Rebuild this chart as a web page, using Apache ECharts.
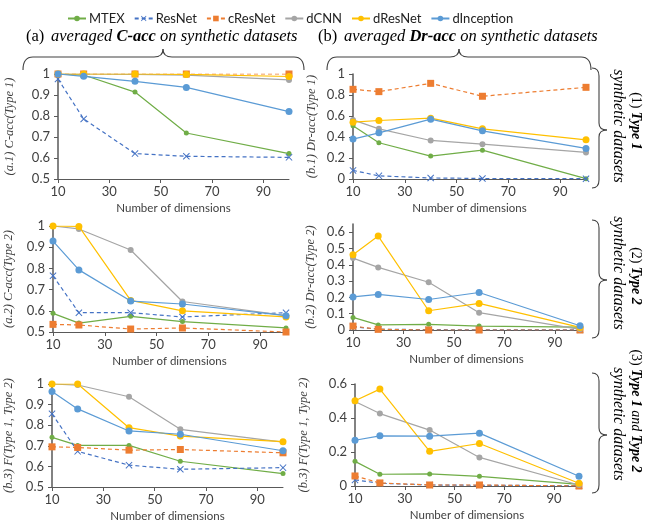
<!DOCTYPE html>
<html>
<head>
<meta charset="utf-8">
<script src="https://cdn.jsdelivr.net/npm/echarts@6/dist/echarts.min.js"></script>
<style>
  html, body { margin: 0; padding: 0; background: #fff; }
  #chart { width: 645px; height: 525px; }
</style>
</head>
<body>
<div id="chart"></div>
<script>
// x values (number of dimensions) and tick labels
const dims = [10, 20, 40, 60, 100];
const xTicks = [10, 30, 50, 70, 90];
const methods = ['MTEX', 'ResNet', 'cResNet', 'dCNN', 'dResNet', 'dInception'];

// y tick labels
const yTicksAcc = [0.5, 0.6, 0.7, 0.8, 0.9, 1];
const yTicksDr1 = [0, 0.2, 0.4, 0.6, 0.8, 1];
const yTicksDr2 = [0, 0.1, 0.2, 0.3, 0.4, 0.5, 0.6];
const yTicksDr3 = [0, 0.2, 0.4, 0.6];

// values, one row per method (same order as methods)
// (a.1) C-acc Type 1
const cAccType1 = [
  [1.0, 0.995, 0.914, 0.719, 0.621],
  [0.976, 0.786, 0.621, 0.608, 0.603],
  [1.0, 1.0, 1.0, 1.0, 1.0],
  [1.0, 1.0, 0.998, 0.995, 0.972],
  [1.0, 1.0, 1.0, 0.998, 0.988],
  [1.0, 0.989, 0.965, 0.936, 0.821]
];
// (b.1) Dr-acc Type 1
const drAccType1 = [
  [0.506, 0.345, 0.218, 0.275, 0.003],
  [0.082, 0.03, 0.01, 0.005, 0.003],
  [0.854, 0.832, 0.911, 0.788, 0.873],
  [0.563, 0.478, 0.367, 0.332, 0.253],
  [0.541, 0.557, 0.579, 0.478, 0.373],
  [0.38, 0.44, 0.57, 0.459, 0.291]
];
// (a.2) C-acc Type 2
const cAccType2 = [
  [0.588, 0.542, 0.574, 0.549, 0.519],
  [0.765, 0.591, 0.591, 0.571, 0.591],
  [0.536, 0.533, 0.514, 0.519, 0.5],
  [1.0, 0.986, 0.887, 0.644, 0.577],
  [1.0, 0.998, 0.649, 0.6, 0.571],
  [0.929, 0.793, 0.646, 0.632, 0.577]
];
// (b.2) Dr-acc Type 2
const drAccType2 = [
  [0.077, 0.031, 0.035, 0.024, 0.018],
  [0.02, 0.005, 0.002, 0.001, 0.001],
  [0.024, 0.004, 0.0, 0.0, 0.0],
  [0.441, 0.384, 0.293, 0.106, 0.004],
  [0.462, 0.576, 0.118, 0.163, 0.016],
  [0.203, 0.218, 0.187, 0.23, 0.026]
];
// (a.3) F(Type 1, Type 2) of C-acc
const cAccBoth = [
  [0.741, 0.702, 0.702, 0.625, 0.565],
  [0.855, 0.673, 0.606, 0.586, 0.594],
  [0.695, 0.692, 0.679, 0.682, 0.666],
  [1.0, 0.995, 0.938, 0.78, 0.718],
  [1.0, 1.0, 0.788, 0.747, 0.72],
  [0.963, 0.879, 0.772, 0.756, 0.676]
];
// (b.3) F(Type 1, Type 2) of Dr-acc
const drAccBoth = [
  [0.145, 0.069, 0.071, 0.057, 0.01],
  [0.036, 0.016, 0.006, 0.004, 0.002],
  [0.059, 0.018, 0.006, 0.006, 0.0],
  [0.497, 0.426, 0.329, 0.168, 0.006],
  [0.501, 0.57, 0.204, 0.25, 0.016],
  [0.269, 0.295, 0.293, 0.311, 0.057]
];

const colors = ['#70AD47', '#4472C4', '#ED7D31', '#A5A5A5', '#FFC000', '#5B9BD5'];
const crossPath = 'path://M0,1L1,0L5,4L9,0L10,1L6,5L10,9L9,10L5,6L1,10L0,9L4,5Z';
const symbols = ['circle', crossPath, 'rect', 'circle', 'circle', 'circle'];
const symbolSizes = [5, 7, 7, 6, 7, 7];
const dashed = [false, true, true, false, false, false];

const sansFont = 'Lato';
const serifFont = 'Liberation Serif';

// panel layout
const panels = [
  { data: cAccType1, min: 0.5, max: 1, ticks: yTicksAcc, name: '(a.1) C-acc(Type 1)', gap: 42,
    grid: { left: 58, top: 74, width: 231, height: 105 } },
  { data: drAccType1, min: 0, max: 1, ticks: yTicksDr1, name: '(b.1) Dr-acc(Type 1)', gap: 35,
    grid: { left: 353, top: 74, width: 233, height: 105 } },
  { data: cAccType2, min: 0.5, max: 1, ticks: yTicksAcc, name: '(a.2) C-acc(Type 2)', gap: 38,
    grid: { left: 53, top: 226, width: 233, height: 106 } },
  { data: drAccType2, min: 0, max: 0.65, ticks: yTicksDr2, name: '(b.2) Dr-acc(Type 2)', gap: 36,
    grid: { left: 353, top: 224, width: 227, height: 106 } },
  { data: cAccBoth, min: 0.5, max: 1, ticks: yTicksAcc, name: '(b.3) F(Type 1, Type 2)', gap: 37,
    grid: { left: 52, top: 384, width: 231, height: 103 } },
  { data: drAccBoth, min: 0, max: 0.6, ticks: yTicksDr3, name: '(b.3) F(Type 1, Type 2)', gap: 45,
    grid: { left: 355, top: 384, width: 224, height: 102 } }
];

const grids = [], xAxes = [], yAxes = [], series = [];
panels.forEach((p, i) => {
  grids.push(p.grid);
  xAxes.push({
    type: 'value', gridIndex: i, min: 10, max: 100,
    name: 'Number of dimensions', nameLocation: 'middle', nameGap: 23,
    nameTextStyle: { fontFamily: sansFont, fontSize: 11.5, color: '#404040' },
    axisLine: { show: true, onZero: false, lineStyle: { color: '#595959', width: 1 } },
    axisTick: { show: true, length: 4, customValues: xTicks, lineStyle: { color: '#595959' } },
    axisLabel: { customValues: xTicks, fontFamily: sansFont, fontSize: 13, color: '#404040', margin: 6 },
    splitLine: { show: false }
  });
  yAxes.push({
    type: 'value', gridIndex: i, min: p.min, max: p.max,
    name: p.name, nameLocation: 'middle', nameGap: p.gap,
    nameTextStyle: { fontFamily: serifFont, fontStyle: 'italic', fontSize: 12.5, color: '#404040' },
    axisLine: { show: true, lineStyle: { color: '#595959', width: 1.5 } },
    axisTick: { show: true, length: 4, customValues: p.ticks, lineStyle: { color: '#595959' } },
    axisLabel: { customValues: p.ticks, fontFamily: sansFont, fontSize: 13, color: '#404040', margin: 8 },
    splitLine: { show: false }
  });
  methods.forEach((m, k) => {
    series.push({
      name: m, type: 'line', xAxisIndex: i, yAxisIndex: i,
      data: dims.map((d, j) => [d, p.data[k][j]]),
      symbol: symbols[k], symbolSize: symbolSizes[k], showSymbol: true,
      color: colors[k],
      itemStyle: { color: colors[k] },
      lineStyle: { color: colors[k], width: 1.2, type: dashed[k] ? [4, 3] : 'solid' },
      z: 2 + k
    });
  });
});

// braces drawn from lines and quadratic curves
const braceStyle = { stroke: '#404040', fill: null, lineWidth: 1.1 };
function seg(x1, y1, x2, y2) {
  return { type: 'line', shape: { x1: x1, y1: y1, x2: x2, y2: y2 }, style: braceStyle, silent: true };
}
function curve(x1, y1, cx, cy, x2, y2) {
  return { type: 'bezierCurve', shape: { x1: x1, y1: y1, cpx1: cx, cpy1: cy, x2: x2, y2: y2 }, style: braceStyle, silent: true };
}
function hBrace(x1, x2, xm) {
  const yl = 57, yt = 49, ye = 70;
  return [
    curve(x1, ye, x1, yl, x1 + 10, yl),
    seg(x1 + 10, yl, xm - 9, yl),
    curve(xm - 9, yl, xm, yl, xm, yt),
    curve(xm, yt, xm, yl, xm + 9, yl),
    seg(xm + 9, yl, x2 - 10, yl),
    curve(x2 - 10, yl, x2, yl, x2, ye)
  ];
}
function vBrace(y1, y2, ym) {
  const xe = 592, xl = 599, xt = 607;
  return [
    curve(xe, y1, xl, y1, xl, y1 + 8),
    seg(xl, y1 + 8, xl, ym - 7),
    curve(xl, ym - 7, xl, ym, xt, ym),
    curve(xt, ym, xl, ym, xl, ym + 7),
    seg(xl, ym + 7, xl, y2 - 8),
    curve(xl, y2 - 8, xl, y2, xe, y2)
  ];
}
const rich = {
  n: { fontFamily: serifFont, fontSize: 16.5, color: '#222' },
  i: { fontFamily: serifFont, fontStyle: 'italic', fontSize: 16.5, color: '#222' },
  b: { fontFamily: serifFont, fontStyle: 'italic', fontWeight: 'bold', fontSize: 16.5, color: '#222' }
};
const sideRich = {
  n: { fontFamily: serifFont, fontSize: 14, color: '#222' },
  i: { fontFamily: serifFont, fontStyle: 'italic', fontSize: 14, color: '#222' },
  s: { fontFamily: serifFont, fontStyle: 'italic', fontSize: 16, color: '#222' },
  b: { fontFamily: serifFont, fontStyle: 'italic', fontWeight: 'bold', fontSize: 14, color: '#222' }
};
function sideText(x, y, text) {
  return { type: 'text', x: x, y: y, rotation: -Math.PI / 2,
    style: { text: text, rich: sideRich, align: 'center', verticalAlign: 'middle' } };
}

const graphics = [
  { type: 'text', x: 26, y: 37, style: { text: '{n|(a)}  {i|averaged }{b|C-acc}{i| on synthetic datasets}', rich: rich, verticalAlign: 'middle' } },
  { type: 'text', x: 318, y: 37, style: { text: '{n|(b)}  {i|averaged }{b|Dr-acc}{i| on synthetic datasets}', rich: rich, verticalAlign: 'middle' } },
  sideText(636, 121, '{n|(1)} {b|Type 1}'),
  sideText(618, 126, '{s|synthetic datasets}'),
  sideText(636, 276, '{n|(2)} {b|Type 2}'),
  sideText(618, 273, '{s|synthetic datasets}'),
  sideText(636, 411, '{n|(3)} {b|Type 1} {i|and} {b|Type 2}'),
  sideText(618, 424, '{s|synthetic datasets}')
].concat(
  hBrace(23, 304, 163), hBrace(327, 591, 459),
  vBrace(68, 188, 130), vBrace(220, 338, 280), vBrace(373, 493, 435)
);

const option = {
  animation: false,
  backgroundColor: '#fff',
  legend: {
    top: 7, left: 62, itemWidth: 18, itemHeight: 7, itemGap: 9,
    textStyle: { fontFamily: sansFont, fontSize: 13, color: '#222', padding: [0, 0, 0, -2] },
    data: methods
  },
  grid: grids, xAxis: xAxes, yAxis: yAxes, series: series,
  graphic: graphics
};

const chart = echarts.init(document.getElementById('chart'), null, { renderer: 'canvas' });
chart.setOption(option);
</script>
</body>
</html>
